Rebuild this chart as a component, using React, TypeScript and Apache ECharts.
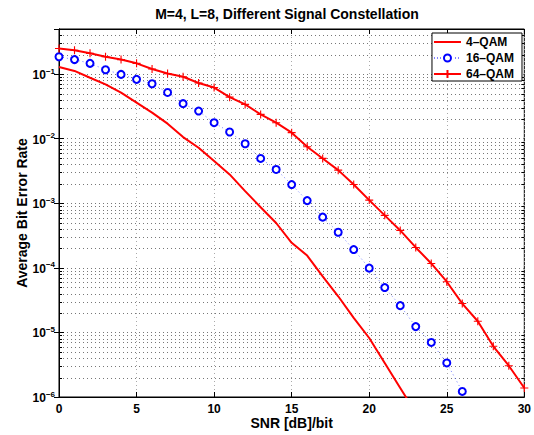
import React, { useEffect, useRef } from 'react';
import * as echarts from 'echarts';

// SNR [dB]/bit values for each series
const snr4qam = [0, 1, 2, 3, 4, 5, 6, 7, 8, 9, 10, 11, 12, 13, 14, 15, 16, 17, 18, 19, 20, 21, 22, 23];
const snr16qam = [0, 1, 2, 3, 4, 5, 6, 7, 8, 9, 10, 11, 12, 13, 14, 15, 16, 17, 18, 19, 20, 21, 22, 23, 24, 25, 26];
const snr64qam = [0, 1, 2, 3, 4, 5, 6, 7, 8, 9, 10, 11, 12, 13, 14, 15, 16, 17, 18, 19, 20, 21, 22, 23, 24, 25, 26, 27, 28, 29, 30];

// Average bit error rate
const ber4qam = [0.129, 0.112, 0.088, 0.0695, 0.0516, 0.0361, 0.0253, 0.0171, 0.0106, 0.00724, 0.0045, 0.0028,
  0.00154, 0.00087, 0.000495, 0.000244, 0.000155, 0.000074, 0.0000363, 0.0000168, 0.0000082, 0.00000337,
  0.00000138, 0.00000057];
const ber16qam = [0.186, 0.168, 0.147, 0.117, 0.099, 0.083, 0.071, 0.052, 0.0349, 0.0268, 0.0177, 0.0127,
  0.00836, 0.00495, 0.00334, 0.00195, 0.0011, 0.00061, 0.000356, 0.000192, 0.000099, 0.0000495, 0.000026,
  0.0000123, 0.000007, 0.00000337, 0.00000122];
const ber64qam = [0.25, 0.234, 0.21, 0.186, 0.168, 0.147, 0.12, 0.102, 0.091, 0.073, 0.062, 0.044, 0.034,
  0.0238, 0.0177, 0.0124, 0.0075, 0.00495, 0.00326, 0.00195, 0.00112, 0.00065, 0.00038, 0.000207, 0.000117,
  0.000061, 0.000028, 0.0000149, 0.0000061, 0.00000305, 0.00000138];

const seriesNames = ['4\u2013QAM', '16\u2013QAM', '64\u2013QAM'];
const titleText = 'M=4, L=8, Different Signal Constellation';
const xName = 'SNR [dB]/bit';
const yName = 'Average Bit Error Rate';

const X_MIN = 0;
const X_MAX = 30;
const Y_MIN = 1e-6;
const Y_MAX = 0.5;

const FONT = '"Liberation Sans", Arial, Helvetica, sans-serif';
const CROSS = 'path://M-0.14,-1H0.14V-0.14H1V0.14H0.14V1H-0.14V0.14H-1V-0.14H-0.14Z';

// legend icons (27 x 12 boxes; corner specks fix the bounding box)
const BOX = 'M0,0h0.01v0.01h-0.01Z M26.99,11.99h0.01v0.01h-0.01Z ';
const ICON_LINE = 'path://' + BOX + 'M0,5H27V7H0Z';
const ICON_CROSS = 'path://' + BOX + 'M0,5H27V7H0Z M12.5,2H14.5V10H12.5Z';
const makeCircleIcon = () => {
  let d = BOX;
  for (let x = 0; x < 27; x += 3) {
    if (x > 7 && x < 19) continue;
    d += `M${x},5.5h1v1h-1Z `;
  }
  d += 'M9,6 A4.5,4.5 0 1,0 18,6 A4.5,4.5 0 1,0 9,6 Z M11,6 A2.5,2.5 0 1,1 16,6 A2.5,2.5 0 1,1 11,6 Z';
  return 'path://' + d;
};

export default function App() {
  const ref = useRef<HTMLDivElement>(null);

  useEffect(() => {
    if (!ref.current) return;
    const chart = echarts.init(ref.current, null, { renderer: 'svg' });

    const minor: number[] = [];
    for (let e = -6; e <= -1; e++) {
      for (let k = 2; k <= 9; k++) {
        const v = k * Math.pow(10, e);
        if (v < Y_MAX - 1e-9) minor.push(v);
      }
    }

    const labelStyle = { fontFamily: FONT, fontSize: 12, fontWeight: 'bold' as const, color: '#000' };

    const option: any = {
      animation: false,
      backgroundColor: '#fff',
      grid: { left: 59, top: 29, width: 468, height: 368, show: true, borderColor: '#000', borderWidth: 1, backgroundColor: '#fff' },
      graphic: [
        {
          type: 'text', x: 287, y: 14, z: 10,
          style: { text: titleText, fontFamily: FONT, fontSize: 14, fontWeight: 'bold', fill: '#000', align: 'center', verticalAlign: 'middle' },
        },
      ],
      legend: {
        data: [
          { name: seriesNames[0], icon: ICON_LINE, itemStyle: { color: '#ff0000', borderWidth: 0 } },
          { name: seriesNames[1], icon: makeCircleIcon(), itemStyle: { color: '#0000ff', borderWidth: 0 } },
          { name: seriesNames[2], icon: ICON_CROSS, itemStyle: { color: '#ff0000', borderWidth: 0 } },
        ],
        orient: 'vertical',
        right: 12,
        top: 33,
        itemWidth: 27,
        itemHeight: 12,
        itemGap: 4,
        padding: [3, 8, 1, 2],
        borderColor: '#000',
        borderWidth: 1,
        borderRadius: 0,
        backgroundColor: '#fff',
        itemStyle: { borderWidth: 0 },
        textStyle: { ...labelStyle },
      },
      xAxis: [
        {
          type: 'value', min: X_MIN, max: X_MAX, interval: 5, position: 'bottom',
          axisLine: { show: true, lineStyle: { color: '#000', width: 1 } },
          axisTick: { show: true, inside: true, length: 5, lineStyle: { color: '#000' } },
          axisLabel: { ...labelStyle, margin: 6 },
          splitLine: { show: true, lineStyle: { color: '#aaa', width: 1, type: [1, 3] } },
          name: xName, nameLocation: 'middle', nameGap: 19, nameMoveOverlap: false,
          nameTextStyle: { fontFamily: FONT, fontSize: 14, fontWeight: 'bold', color: '#000' },
        },
        {
          type: 'value', min: X_MIN, max: X_MAX, interval: 5, position: 'top',
          axisLine: { show: true, lineStyle: { color: '#000', width: 1 } },
          axisTick: { show: true, inside: true, length: 5, lineStyle: { color: '#000' } },
          axisLabel: { show: false },
          splitLine: { show: false },
        },
      ],
      yAxis: [
        {
          type: 'log', logBase: 10, min: Y_MIN, max: Y_MAX, position: 'left',
          axisLine: { show: true, lineStyle: { color: '#000', width: 1 } },
          axisTick: { show: true, inside: true, length: 5, lineStyle: { color: '#000' } },
          axisLabel: {
            ...labelStyle, margin: 4, showMaxLabel: false,
            formatter: (v: number) => {
              const e = Math.round(Math.log10(v));
              return '{b|10}{s|\u2212' + Math.abs(e) + '}';
            },
            rich: {
              b: { fontFamily: FONT, fontSize: 12, fontWeight: 'bold', color: '#000', lineHeight: 14, verticalAlign: 'bottom' },
              s: { fontFamily: FONT, fontSize: 8, fontWeight: 'bold', color: '#000', lineHeight: 14, verticalAlign: 'top' },
            },
          },
          splitLine: { show: true, lineStyle: { color: '#777', width: 1, type: [1, 3] } },
          name: yName, nameLocation: 'middle', nameGap: 30, nameMoveOverlap: false,
          nameTextStyle: { fontFamily: FONT, fontSize: 14, fontWeight: 'bold', color: '#000' },
        },
        {
          type: 'log', logBase: 10, min: Y_MIN, max: Y_MAX, position: 'right',
          axisLine: { show: true, lineStyle: { color: '#000', width: 1 } },
          axisTick: { show: true, inside: true, length: 5, lineStyle: { color: '#000' } },
          axisLabel: { show: false },
          splitLine: { show: false },
        },
      ],
      series: [
        {
          type: 'custom',
          silent: true,
          z: 1,
          xAxisIndex: 0,
          yAxisIndex: 0,
          encode: { x: 0, y: 1 },
          data: minor.map((v) => [X_MIN, v]),
          renderItem: (_params: any, api: any) => {
            const v = api.value(1);
            const p0 = api.coord([X_MIN, v]);
            const p1 = api.coord([X_MAX, v]);
            const y = Math.round(p0[1]) + 0.5;
            return {
              type: 'group',
              children: [
                { type: 'line', shape: { x1: p0[0], y1: y, x2: p1[0], y2: y }, style: { stroke: '#777', lineWidth: 1, lineDash: [1, 3] } },
                { type: 'line', shape: { x1: p0[0], y1: y, x2: p0[0] + 3, y2: y }, style: { stroke: '#000', lineWidth: 1 } },
                { type: 'line', shape: { x1: p1[0] - 3, y1: y, x2: p1[0], y2: y }, style: { stroke: '#000', lineWidth: 1 } },
              ],
            };
          },
        },
        {
          name: seriesNames[0],
          type: 'line',
          z: 3,
          data: snr4qam.map((x, i) => [x, ber4qam[i]]),
          symbol: 'none',
          lineStyle: { color: '#ff0000', width: 2 },
          itemStyle: { color: '#ff0000' },
        },
        {
          name: seriesNames[1],
          type: 'line',
          z: 4,
          data: snr16qam.map((x, i) => [x, ber16qam[i]]),
          symbol: 'emptyCircle',
          symbolSize: 7,
          lineStyle: { color: '#3344ff', width: 1, type: [1, 3], opacity: 0.7 },
          itemStyle: { color: '#0000ff', borderColor: '#0000ff', borderWidth: 2 },
        },
        {
          name: seriesNames[2],
          type: 'line',
          z: 5,
          data: snr64qam.map((x, i) => [x, ber64qam[i]]),
          symbol: CROSS,
          symbolSize: 8,
          lineStyle: { color: '#ff0000', width: 2 },
          itemStyle: { color: '#ff0000' },
        },
      ],
    };

    chart.setOption(option);
    return () => chart.dispose();
  }, []);

  return <div ref={ref} style={{ position: 'fixed', left: 0, top: 0, width: 534, height: 435, background: '#fff' }} />;
}
